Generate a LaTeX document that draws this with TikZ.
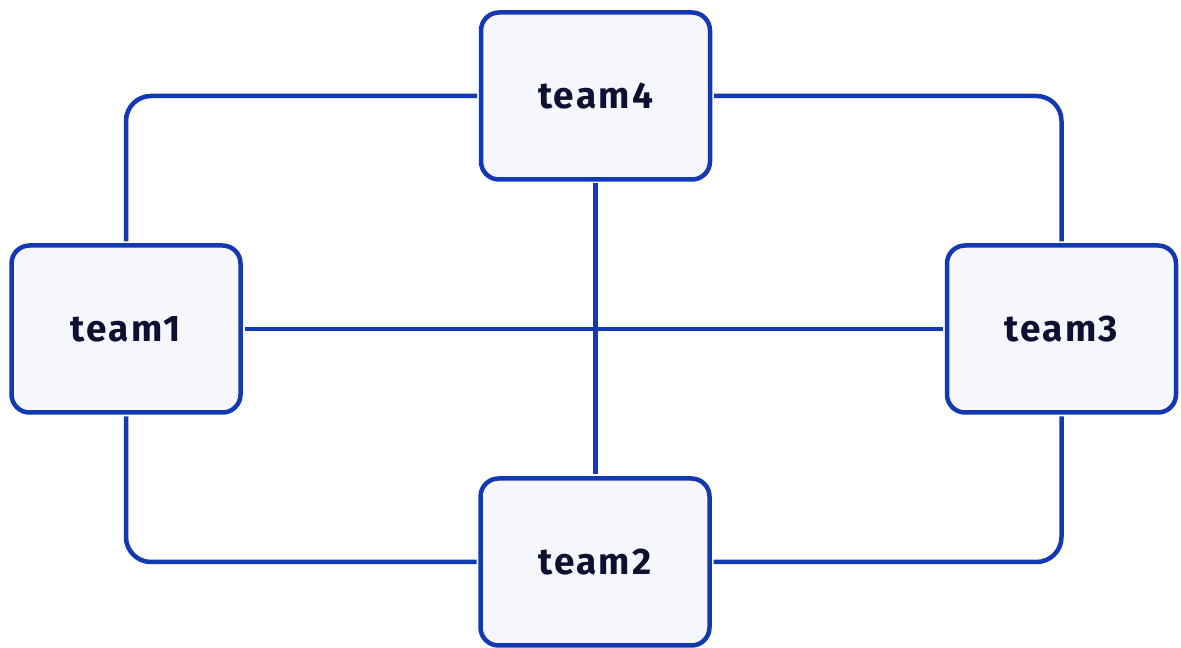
\documentclass[tikz,border=0pt]{standalone}
\usepackage{fontspec}
\newfontfamily\boxfont[LetterSpace=6]{Fira Sans}
\definecolor{edgeblue}{HTML}{1238B4}
\definecolor{boxfill}{HTML}{F6F7FD}
\definecolor{txt}{HTML}{0D1030}
\begin{document}
\begin{tikzpicture}[x=1pt,y=1pt,
  team/.style={draw=edgeblue, fill=boxfill, line width=4.5pt, rounded corners=18pt,
    minimum width=229pt, minimum height=167pt, inner sep=0pt, outer sep=4pt,
    font=\boxfont\bfseries\fontsize{37}{42}\selectfont, text=txt},
  link/.style={draw=edgeblue, line width=4.5pt, rounded corners=25pt}]
\useasboundingbox (0,0) rectangle (1181,648);
\node[team] (t4) at (595.5,552) {team4};
\node[team] (t1) at (126,319) {team1};
\node[team] (t3) at (1061.5,319) {team3};
\node[team] (t2) at (595,86) {team2};
\path[link] (t1.north) |- (t4.west);
\path[link] (t4.east) -| (t3.north);
\path[link] (t1.south) |- (t2.west);
\path[link] (t2.east) -| (t3.south);
\path[link] (t1.east) -- (t3.west);
\path[link] (t4.south) -- (t4.south |- t2.north);
\end{tikzpicture}
\end{document}
